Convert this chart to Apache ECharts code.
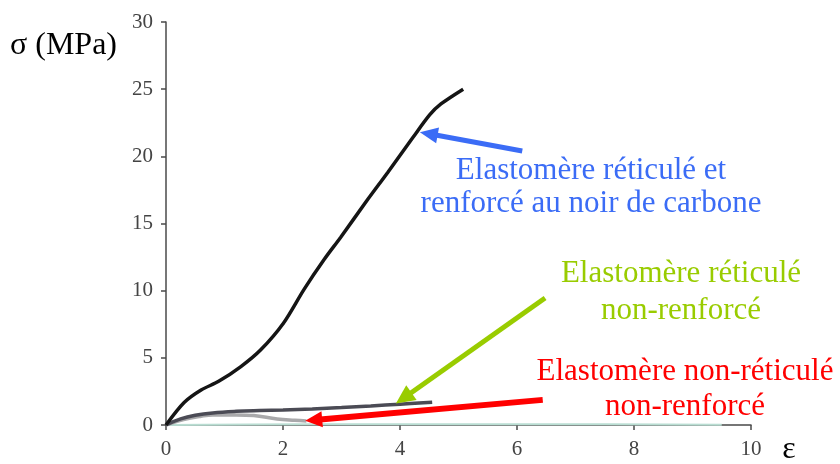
<!DOCTYPE html>
<html><head><meta charset="utf-8">
<script src="https://cdn.jsdelivr.net/npm/echarts@6/dist/echarts.min.js"></script>
<style>html,body{margin:0;padding:0;background:#fff}#c{width:840px;height:464px}</style>
</head><body><div id="c"></div>
<script>
// ---- data ----
const xTicks = [0, 2, 4, 6, 8, 10];
const yTicks = [0, 5, 10, 15, 20, 25, 30];
const reinforced = [[0,0],[0.31,1.67],[0.6,2.6],[0.9,3.25],[1.28,4.35],[1.62,5.6],[2.01,7.6],[2.36,10.1],[2.7,12.3],[2.99,14.0],[3.45,16.8],[3.79,18.8],[4.22,21.4],[4.51,23.1],[4.7,23.9],[5.08,25.0]];
const crosslinked = [[0,0],[0.25,0.45],[0.5,0.72],[0.8,0.9],[1.2,1.02],[1.6,1.08],[2.0,1.12],[2.5,1.2],[3.0,1.3],[3.5,1.42],[4.0,1.55],[4.55,1.7]];
const uncrosslinked = [[0,0],[0.3,0.4],[0.6,0.65],[0.8,0.75],[1.2,0.75],[1.5,0.7],[1.9,0.45],[2.2,0.35],[2.4,0.3]];
const faintBase = [[0,0],[2.5,0.06],[6,0.06],[9.5,0.02]];
const arrowBlue = {from:[6.09,20.4], to:[4.34,21.8]};
const arrowGreen = {from:[6.48,9.45], to:[3.93,1.6]};
const arrowRed = {from:[6.44,1.87], to:[2.38,0.31]};
const labelBlue = ['Elastomère réticulé et', 'renforcé au noir de carbone'];
const labelGreen = ['Elastomère réticulé', 'non-renforcé'];
const labelRed = ['Elastomère non-réticulé', 'non-renforcé'];
const yName = 'σ (MPa)';
const xName = 'ε';

const chart = echarts.init(document.getElementById('c'), null, {renderer:'canvas'});
const serif = '"Liberation Serif","Times New Roman",serif';
const axisCommon = {
  axisLine:{show:true, lineStyle:{color:'#4a4a4a', width:1.5}},
  axisTick:{show:true, length:5, lineStyle:{color:'#4a4a4a', width:1.5}},
  splitLine:{show:false},
  axisLabel:{color:'#444', fontFamily:serif, fontSize:21}
};
chart.setOption({
  animation:false,
  backgroundColor:'#fff',
  grid:{left:166, right:89, top:22, bottom:39, containLabel:false},
  xAxis:Object.assign({type:'value', min:xTicks[0], max:xTicks[xTicks.length-1], interval:xTicks[1]-xTicks[0]}, axisCommon,
    {axisLabel:Object.assign({}, axisCommon.axisLabel, {margin:14})}),
  yAxis:Object.assign({type:'value', min:yTicks[0], max:yTicks[yTicks.length-1], interval:yTicks[1]-yTicks[0]}, axisCommon,
    {axisLabel:Object.assign({}, axisCommon.axisLabel, {margin:13})}),
  series:[
    {type:'line', data:faintBase, showSymbol:false, smooth:0.3, lineStyle:{color:'#b9ddd2', width:2}, z:1},
    {type:'line', data:uncrosslinked, showSymbol:false, smooth:0.4, lineStyle:{color:'#a9a9ab', width:3.5}, z:2},
    {type:'line', data:crosslinked, showSymbol:false, smooth:0.4, lineStyle:{color:'#4b4b55', width:3.5}, z:3},
    {type:'line', data:reinforced, showSymbol:false, smooth:0.3, lineStyle:{color:'#151515', width:3.5}, z:4}
  ]
});

function arrow(a, color, width, headLen, headHalf){
  const p1 = chart.convertToPixel({gridIndex:0}, a.from);
  const p2 = chart.convertToPixel({gridIndex:0}, a.to);
  const dx = p2[0]-p1[0], dy = p2[1]-p1[1], L = Math.hypot(dx,dy), ux = dx/L, uy = dy/L;
  const bx = p2[0]-ux*headLen, by = p2[1]-uy*headLen;
  return [
    {type:'line', shape:{x1:p1[0], y1:p1[1], x2:bx+ux*2, y2:by+uy*2}, style:{stroke:color, lineWidth:width, lineCap:'butt'}, z:10},
    {type:'polygon', shape:{points:[[p2[0],p2[1]],[bx-uy*headHalf, by+ux*headHalf],[bx+uy*headHalf, by-ux*headHalf]]}, style:{fill:color}, z:10}
  ];
}
function txt(s, x, y, color, size){
  return {type:'text', x:x, y:y, z:11, style:{text:s, fill:color, font:size+'px '+serif, textAlign:'center', textVerticalAlign:'middle'}};
}
const blue = '#3b6cf6', green = '#99cc00', red = '#ff0000';
const g = [].concat(
  arrow(arrowBlue, blue, 5, 18, 8),
  arrow(arrowGreen, green, 5, 19, 9),
  arrow(arrowRed, red, 6, 17, 8),
  [
    txt(labelBlue[0], 591, 171, blue, 31),
    txt(labelBlue[1], 591, 204, blue, 31),
    txt(labelGreen[0], 681, 274, green, 31),
    txt(labelGreen[1], 681, 311, green, 31),
    txt(labelRed[0], 685, 372, red, 31),
    txt(labelRed[1], 685, 407, red, 31),
    {type:'text', left:10, top:30, z:11, style:{text:yName, fill:'#000', font:'32px '+serif}},
    txt(xName, 789, 450, '#000', 32)
  ]
);
chart.setOption({graphic:g});
</script>
</body></html>
